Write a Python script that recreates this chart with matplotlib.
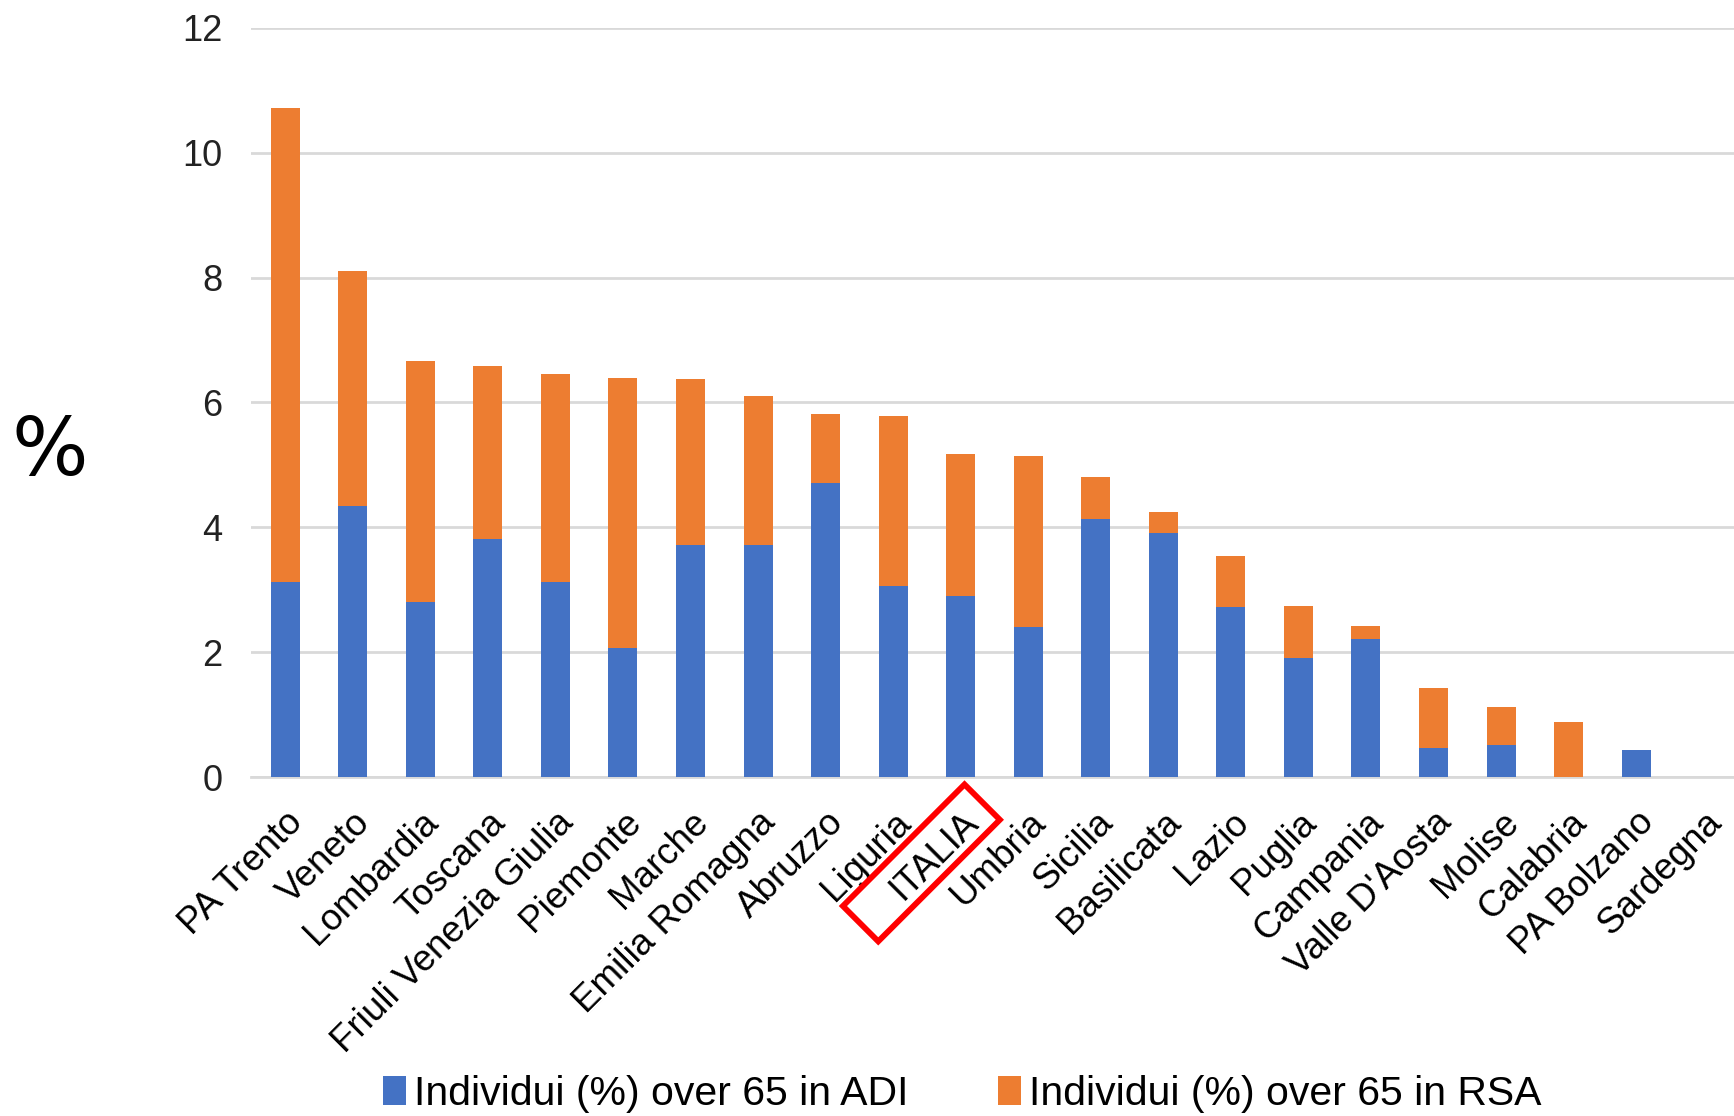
import matplotlib.pyplot as plt
import numpy as np
from matplotlib.patches import Polygon

plt.rcParams['font.family'] = ['Liberation Sans', 'DejaVu Sans']

# Regions, sorted as in the reference
regions = ['PA Trento', 'Veneto', 'Lombardia', 'Toscana', 'Friuli Venezia Giulia',
           'Piemonte', 'Marche', 'Emilia Romagna', 'Abruzzo', 'Liguria', 'ITALIA',
           'Umbria', 'Sicilia', 'Basilicata', 'Lazio', 'Puglia', 'Campania',
           "Valle D'Aosta", 'Molise', 'Calabria', 'PA Bolzano', 'Sardegna']

# % over 65 in ADI (blue)
adi = [3.12, 4.34, 2.80, 3.81, 3.13, 2.07, 3.72, 3.72, 4.71, 3.06, 2.90,
       2.41, 4.14, 3.91, 2.73, 1.91, 2.21, 0.46, 0.51, 0.0, 0.44, 0.0]
# stacked totals (ADI + RSA)
total = [10.71, 8.11, 6.67, 6.58, 6.46, 6.39, 6.37, 6.11, 5.81, 5.79, 5.17,
         5.15, 4.81, 4.25, 3.54, 2.74, 2.42, 1.42, 1.13, 0.88, 0.44, 0.0]
rsa = [round(t - a, 2) for t, a in zip(total, adi)]

labels = ['Individui (%) over 65 in ADI', 'Individui (%) over 65 in RSA']
colors = ['#4472C4', '#ED7D31']

fig = plt.figure(figsize=(17.34, 11.16), dpi=100)
ax = fig.add_axes([0.145, 0.3037, 0.857, 0.6713])

x = np.arange(len(regions))
w = 0.43
ax.bar(x, adi, w, color=colors[0], label=labels[0], zorder=3)
ax.bar(x, rsa, w, bottom=adi, color=colors[1], label=labels[1], zorder=3)

ax.set_xlim(-0.5, len(regions) - 0.5)
ax.set_ylim(0, 12)
ax.set_yticks(range(0, 13, 2))
ax.yaxis.grid(True, color='#D9D9D9', linewidth=2, zorder=0)
ax.set_axisbelow(True)
for s in ['top', 'right', 'left']:
    ax.spines[s].set_visible(False)
ax.spines['bottom'].set_color('#D9D9D9')
ax.spines['bottom'].set_linewidth(2)
ax.tick_params(axis='y', length=0, labelsize=26, pad=21, colors='#222222')
ax.tick_params(axis='x', length=0, labelsize=26.5, pad=20)

ax.set_xticks(x)
ax.set_xticklabels(regions, rotation=45, ha='right', rotation_mode='anchor')

fig.text(0.029, 0.594, '%', fontsize=58, ha='center', va='center',
         family=['DejaVu Sans'])

fig.legend(loc='center', bbox_to_anchor=(0.555, 0.02), ncol=2,
           frameon=False, fontsize=29.5, handlelength=0.55, handleheight=0.7,
           handletextpad=0.2, columnspacing=2.2)

# red rotated box around the ITALIA label
fig.canvas.draw()
lab = [t for t in ax.get_xticklabels() if t.get_text() == 'ITALIA'][0]
bb = lab.get_window_extent()
cx, cy = (bb.x0 + bb.x1) / 2 - 13, (bb.y0 + bb.y1) / 2 - 7
u = np.array([1, 1]) / np.sqrt(2)    # along the text
v = np.array([-1, 1]) / np.sqrt(2)   # across the text
hl, hw = 86, 25
c = np.array([cx, cy])
corners = [c - hl * u - hw * v, c + hl * u - hw * v,
           c + hl * u + hw * v, c - hl * u + hw * v]
corners = [fig.transFigure.inverted().transform(p) for p in corners]
fig.patches.append(Polygon(corners, closed=True, fill=False, edgecolor='#FF0000',
                           linewidth=4.2, transform=fig.transFigure, figure=fig))

fig.savefig('out.png', dpi=100)
